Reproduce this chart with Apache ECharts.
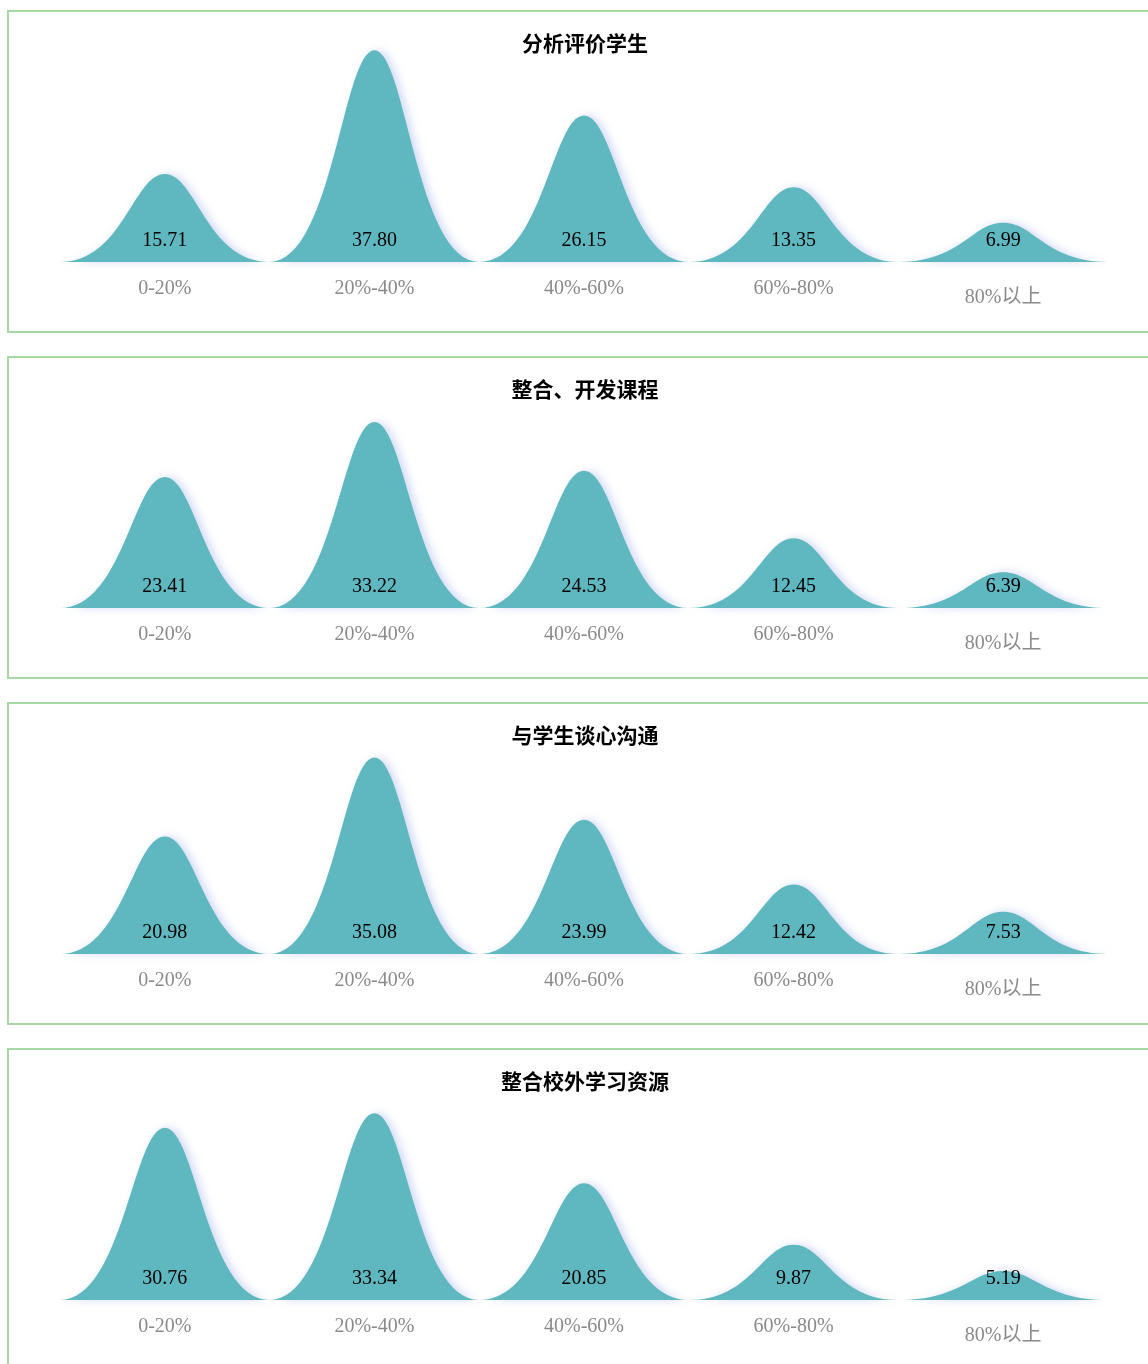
<!DOCTYPE html>
<html>
<head>
<meta charset="utf-8">
<script src="https://cdn.jsdelivr.net/npm/echarts@6/dist/echarts.min.js"></script>
<style>
  html, body { margin: 0; padding: 0; background: #fff; overflow: hidden; }
  .panel {
    position: absolute;
    left: 7px;
    width: 1152px;
    height: 319px;
    border: 2px solid #a6d9a6;
  }
</style>
</head>
<body>
<div id="c0" class="panel" style="top:10px"></div>
<div id="c1" class="panel" style="top:356px"></div>
<div id="c2" class="panel" style="top:702px"></div>
<div id="c3" class="panel" style="top:1048px"></div>
<script>
// Score bands shown on every x axis
const bands = ['0-20%', '20%-40%', '40%-60%', '60%-80%', '80%以上'];

// One title and one series of percentages per panel
const titles = ['分析评价学生', '整合、开发课程', '与学生谈心沟通', '整合校外学习资源'];
const analyseStudents = [15.71, 37.80, 26.15, 13.35, 6.99];
const developCourses = [23.41, 33.22, 24.53, 12.45, 6.39];
const talkWithStudents = [20.98, 35.08, 23.99, 12.42, 7.53];
const outsideResources = [30.76, 33.34, 20.85, 9.87, 5.19];
const seriesList = [analyseStudents, developCourses, talkWithStudents, outsideResources];

// Bell-shaped peak: flat tails, rounded top
const bell = 'path://M0,10 C3,10 3.5,0 5,0 C6.5,0 7,10 10,10 Z';

function buildOption(title, values) {
  return {
    animation: false,
    title: {
      text: title,
      left: 'center',
      top: 16,
      textStyle: {
        fontFamily: 'Noto Sans CJK SC',
        fontWeight: 'bold',
        fontSize: 21,
        color: '#000'
      }
    },
    grid: { left: 51, right: 53, top: 26, bottom: 69 },
    xAxis: {
      type: 'category',
      data: bands,
      axisLine: { show: false },
      axisTick: { show: false },
      axisLabel: {
        margin: 17,
        fontFamily: 'Liberation Serif, Noto Sans CJK SC',
        fontSize: 20,
        color: '#8a8a8a',
        formatter: function (v) {
          return /[\u4e00-\u9fff]/.test(v) ? '{cjk|' + v + '}' : v;
        },
        rich: {
          cjk: {
            fontFamily: 'Liberation Serif, Noto Sans CJK SC',
            fontSize: 20,
            color: '#8a8a8a',
            padding: [9, 0, 0, 0]
          }
        }
      }
    },
    yAxis: {
      type: 'value',
      min: 0,
      max: 40,
      show: false,
      splitLine: { show: false }
    },
    series: [{
      type: 'pictorialBar',
      data: values,
      symbol: bell,
      symbolSize: ['100%', '100%'],
      barCategoryGap: '0%',
      itemStyle: {
        color: '#5fb7bf',
        shadowColor: 'rgba(140,160,230,0.38)',
        shadowBlur: 8,
        shadowOffsetX: 4
      },
      label: {
        show: true,
        position: 'insideBottom',
        distance: 11,
        fontFamily: 'Liberation Serif',
        fontSize: 20,
        color: '#000',
        formatter: function (p) { return p.value.toFixed(2); }
      }
    }]
  };
}

titles.forEach(function (t, i) {
  const chart = echarts.init(document.getElementById('c' + i), null, { renderer: 'canvas' });
  chart.setOption(buildOption(t, seriesList[i]));
});
</script>
</body>
</html>
